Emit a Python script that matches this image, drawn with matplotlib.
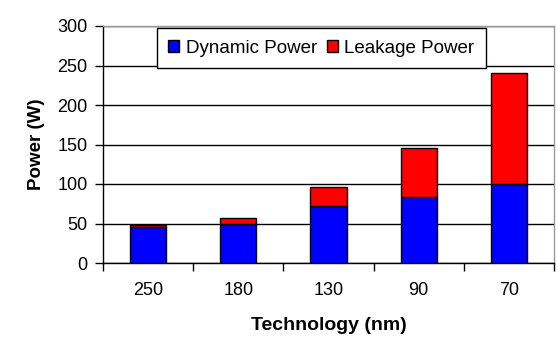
import matplotlib
matplotlib.use("Agg")
import matplotlib.pyplot as plt
import numpy as np

plt.rcParams['font.family'] = ['Liberation Sans', 'DejaVu Sans']

categories = ['250', '180', '130', '90', '70']
dynamic = [46, 50, 72, 84, 100]
leakage = [2.5, 7, 24, 61, 140]
yticks = [0, 50, 100, 150, 200, 250, 300]

fig = plt.figure(figsize=(5.58, 3.6), dpi=100)
ax = fig.add_axes([103/558, 97/360, 451/558, 237/360])

x = np.arange(len(categories))
ax.bar(x, dynamic, width=0.4, color='#0000FF', edgecolor='black', linewidth=1, label='Dynamic Power', zorder=3)
ax.bar(x, leakage, width=0.4, bottom=dynamic, color='#FF0000', edgecolor='black', linewidth=1, label='Leakage Power', zorder=3)

ax.set_xlim(-0.5, len(categories) - 0.5)
ax.set_ylim(0, 300)
ax.set_yticks(yticks)
ax.set_yticklabels([str(v) for v in yticks], fontsize=13)
ax.yaxis.grid(True, color='black', linewidth=1, zorder=0)
ax.set_axisbelow(True)

ax.set_xticks(x)
ax.set_xticklabels(categories, fontsize=13)
ax.tick_params(axis='x', which='major', length=0, pad=14)
ax.set_xticks(np.arange(-0.5, len(categories)), minor=True)
ax.tick_params(axis='x', which='minor', length=6, width=1, direction='out')
ax.tick_params(axis='y', length=6, width=1, direction='out', pad=5)

for s in ['top', 'right']:
    ax.spines[s].set_color('#999999')
    ax.spines[s].set_linewidth(1)
for s in ['left', 'bottom']:
    ax.spines[s].set_color('black')
    ax.spines[s].set_linewidth(1)

ax.set_ylabel('Power (W)', fontsize=13.5, fontweight='bold', labelpad=9)
ax.set_xlabel('Technology (nm)', fontsize=14, fontweight='bold', labelpad=13)

leg = ax.legend(loc='upper center', bbox_to_anchor=(0.484, 0.99), ncol=2, fontsize=13.5,
                frameon=True, fancybox=False, edgecolor='black', framealpha=1,
                handlelength=0.6, handleheight=0.6, handletextpad=0.35, columnspacing=0.5,
                borderpad=0.6, borderaxespad=0)
leg.get_frame().set_linewidth(1)
leg.set_zorder(5)

fig.savefig('out.png', dpi=100)
